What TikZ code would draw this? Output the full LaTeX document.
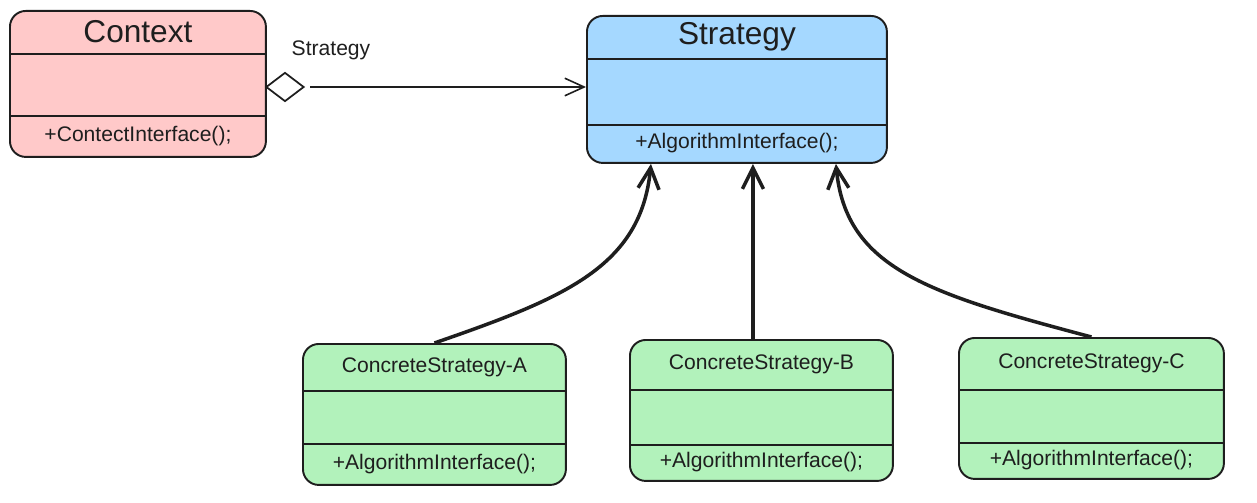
\documentclass[tikz,border=0pt]{standalone}
\usepackage{fontspec}
\setmainfont{Liberation Sans}
\usetikzlibrary{matrix, positioning, shapes.geometric, arrows.meta}
\definecolor{ink}{HTML}{1E1E1E}
\definecolor{ctxred}{HTML}{FFC9C9}
\definecolor{stratblue}{HTML}{A5D8FF}
\definecolor{concgreen}{HTML}{B2F2BB}

\begin{document}
\begin{tikzpicture}[x=0.02cm, y=-0.02cm,
classbox/.style n args={4}{matrix of nodes, draw=ink, line width=1.1pt, rounded corners=9pt, inner sep=0pt, anchor=north west, nodes in empty cells,
  nodes={anchor=center, inner sep=0pt, minimum width=#1, text=ink, font=\fontsize{12}{14}\selectfont},
  row 1/.style={nodes={minimum height=#2}}, row 2/.style={nodes={minimum height=#3}}, row 3/.style={nodes={minimum height=#4}}},
bigtitle/.style={row 1/.append style={nodes={font=\fontsize{18}{20}\selectfont}}},
divider/.style={draw=ink, line width=0.8pt},
inherit/.style={draw=ink, line width=2pt, -{Straight Barb[length=12pt, width=12pt]}},
assoc/.style={draw=ink, line width=0.9pt, -{Straight Barb[length=11pt, width=10pt]}}]

  \useasboundingbox (0,0) rectangle (1257,503);

  \matrix[classbox={5.12cm}{0.84cm}{1.24cm}{0.84cm}, fill=ctxred, bigtitle] (ctx) at (9,10) {
    Context\\
    \\
    +ContectInterface();\\
  };
  \matrix[classbox={6cm}{0.84cm}{1.32cm}{0.78cm}, fill=stratblue, bigtitle] (strat) at (586,15) {
    Strategy\\
    \\
    +AlgorithmInterface();\\
  };
  \matrix[classbox={5.26cm}{0.92cm}{1.06cm}{0.84cm}, fill=concgreen] (csa) at (302,343) {
    ConcreteStrategy-A\\
    \\
    +AlgorithmInterface();\\
  };
  \matrix[classbox={5.26cm}{0.98cm}{1.10cm}{0.74cm}, fill=concgreen] (csb) at (629,339) {
    ConcreteStrategy-B\\
    \\
    +AlgorithmInterface();\\
  };
  \matrix[classbox={5.30cm}{1.02cm}{1.06cm}{0.74cm}, fill=concgreen] (csc) at (958,337) {
    ConcreteStrategy-C\\
    \\
    +AlgorithmInterface();\\
  };

  % compartment lines
  \foreach \cls in {ctx,strat,csa,csb,csc} {
    \draw[divider] (\cls-1-1.south west) -- (\cls-1-1.south east);
    \draw[divider] (\cls-2-1.south west) -- (\cls-2-1.south east);
  }

  % aggregation
  \node[diamond, draw=ink, fill=white, line width=1pt, minimum width=0.76cm, minimum height=0.58cm, inner sep=0pt] (agg) at (285,87) {};
  \node[text=ink, font=\fontsize{12}{14}\selectfont] (role) at (331,50) {Strategy};
  \draw[assoc, shorten <=3pt] (agg.east) -- (agg.east -| strat.west);

  % generalisation
  \coordinate (inA) at ([xshift=-1.72cm]strat.south);
  \coordinate (inB) at ([xshift=0.32cm]strat.south);
  \coordinate (inC) at ([xshift=1.98cm]strat.south);
  \draw[inherit] (csa.north) .. controls +(130,-45) and +(-10,103) .. (inA);
  \draw[inherit] (csb.north -| inB) -- (inB);
  \draw[inherit] (csc.north) .. controls +(-162,-43) and +(10,105) .. (inC);
\end{tikzpicture}
\end{document}
